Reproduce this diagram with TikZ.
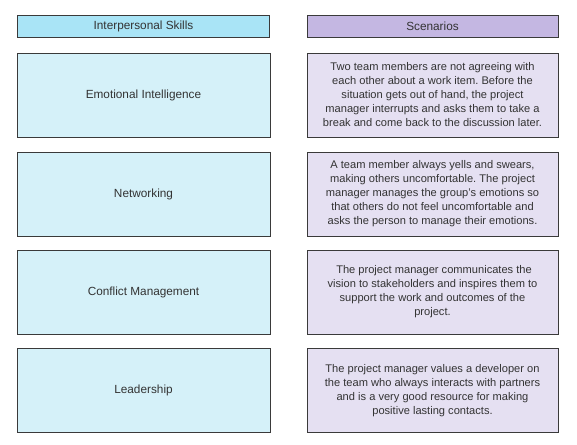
\documentclass[tikz,border=0pt]{standalone}
\usepackage{fontspec}
\setmainfont{Liberation Sans}
\frenchspacing
\definecolor{hdrL}{HTML}{A9E4F6}
\definecolor{boxL}{HTML}{D5F1F9}
\definecolor{hdrR}{HTML}{C4B7E2}
\definecolor{boxR}{HTML}{E5E0F2}
\definecolor{edge}{HTML}{3A3A3A}
\begin{document}
\begin{tikzpicture}[x=1pt,y=-1pt,
  hdr/.style={draw=edge,line width=0.8pt,minimum width=252pt,minimum height=22pt,inner sep=0pt,font=\fontsize{11.8}{13}\selectfont,text=black!80},
  skill/.style={draw=edge,line width=0.8pt,fill=boxL,minimum width=253pt,minimum height=84pt,inner sep=0pt,font=\fontsize{11.8}{13}\selectfont,text=black!80},
  scen/.style={draw=edge,line width=0.8pt,fill=boxR,minimum width=251pt,minimum height=84pt,inner sep=1pt,align=center,font=\fontsize{11.1}{14}\selectfont\frenchspacing,text=black!80}]
\useasboundingbox (0,0) rectangle (577,444);
\fill[white] (0,0) rectangle (577,444);
\node[hdr,fill=hdrL] (h1) at (143.5,26) {Interpersonal Skills};
\node[hdr,fill=hdrR,minimum width=251pt] (h2) at (432.5,26) {Scenarios};
\node[skill] (s1) at (143.5,95) {Emotional Intelligence};
\node[skill] (s2) at (143.5,194) {Networking};
\node[skill] (s3) at (143.5,292) {Conflict Management};
\node[skill] (s4) at (143.5,390.5) {Leadership};
\node[scen] (c1) at (432.5,95) {Two team members are not agreeing with\\each other about a work item. Before the\\situation gets out of hand, the project\\manager interrupts and asks them to take a\\break and come back to the discussion later.};
\node[scen] (c2) at (432.5,194) {A team member always yells and swears,\\making others uncomfortable. The project\\manager manages the group's emotions so\\that others do not feel uncomfortable and\\asks the person to manage their emotions.};
\node[scen] (c3) at (432.5,292) {\ The project manager communicates the\\vision to stakeholders and inspires them to\\support the work and outcomes of the\\project.};
\node[scen] (c4) at (432.5,390.5) {The project manager values a developer on\\the team who always interacts with partners\\and is a very good resource for making\\positive lasting contacts.};
\end{tikzpicture}
\end{document}
